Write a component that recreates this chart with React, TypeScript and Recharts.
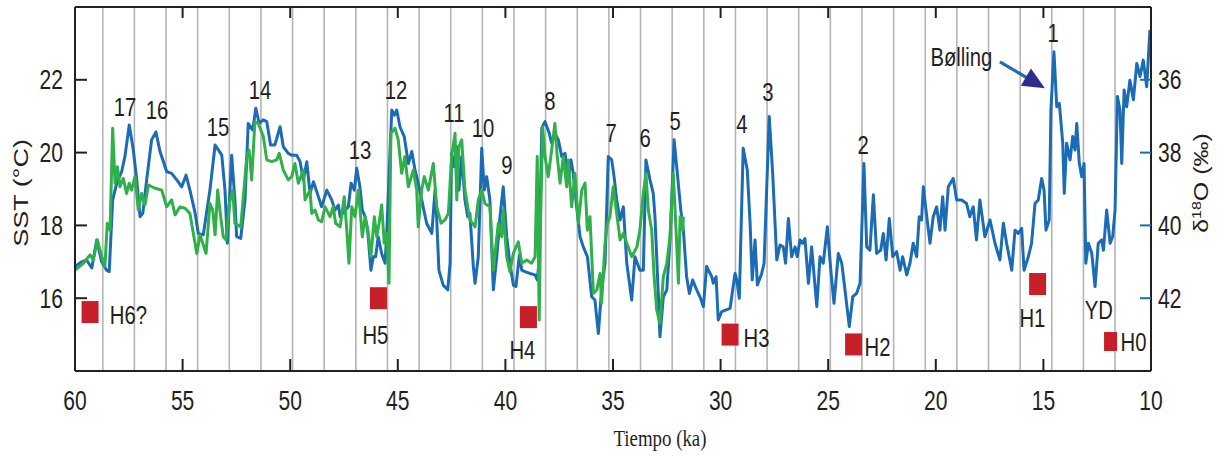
import React from 'react';
import { ComposedChart, Line, XAxis, YAxis, Scatter, ReferenceLine, CartesianGrid } from 'recharts';

// ---------- data ----------
const timeTicks = [60, 55, 50, 45, 40, 35, 30, 25, 20, 15, 10];
const sstTicks = [16, 18, 20, 22];
const d18oTicks = [36, 38, 40, 42];

// ~1470-yr spaced reference lines (ka)
const gridTimes = [58.71, 57.24, 55.77, 54.3, 52.83, 51.36, 49.89, 48.42, 46.95, 45.48, 44.01, 42.54, 41.07, 39.6, 38.13,
  36.66, 35.19, 33.72, 32.25, 30.78, 29.31, 27.84, 26.37, 24.9, 23.43, 21.96, 20.49, 19.02, 17.55, 16.08, 14.61, 13.14, 11.67];

// SST record [ka, °C]
const sstRecord: [number, number][] = [
  [60.0, 16.87], [59.69, 17.0], [59.46, 17.05], [59.22, 16.83], [58.99, 17.6], [58.76, 17.0], [58.53, 16.77], [58.41, 16.73],
  [58.25, 18.7], [58.06, 19.16], [57.83, 19.48], [57.68, 19.89], [57.48, 20.76], [57.29, 20.07], [57.13, 19.25], [56.98, 18.24],
  [56.85, 18.33], [56.67, 19.25], [56.44, 20.35], [56.24, 20.57], [56.05, 20.03], [55.74, 19.48], [55.51, 19.43], [55.27, 19.25],
  [55.04, 19.06], [54.84, 19.38], [54.66, 18.97], [54.42, 18.34], [54.27, 17.78], [54.04, 17.74], [53.73, 18.97], [53.49, 20.21],
  [53.18, 19.93], [53.03, 18.97], [52.92, 17.51], [52.72, 19.93], [52.57, 18.7], [52.49, 17.69], [52.3, 17.64], [52.1, 18.7],
  [51.95, 20.8], [51.74, 20.62], [51.6, 21.22], [51.44, 20.8], [51.25, 20.9], [51.09, 20.85], [50.91, 20.21], [50.71, 20.21],
  [50.47, 20.71], [50.32, 20.16], [50.09, 19.98], [49.93, 19.93], [49.7, 19.93], [49.54, 19.75], [49.39, 19.25], [49.23, 19.75],
  [49.08, 18.88], [48.92, 19.2], [48.69, 18.79], [48.54, 18.51], [48.3, 18.97], [48.07, 18.7], [47.92, 18.42], [47.76, 18.56],
  [47.68, 18.24], [47.45, 18.42], [47.3, 18.51], [47.17, 19.16], [47.02, 18.97], [46.91, 19.57], [46.76, 19.06], [46.65, 18.42],
  [46.52, 18.24], [46.4, 17.87], [46.25, 16.77], [46.14, 17.14], [46.03, 17.14], [45.91, 17.69], [45.75, 17.23], [45.59, 16.96],
  [45.52, 17.69], [45.28, 21.17], [45.16, 21.03], [45.05, 21.17], [44.9, 20.71], [44.7, 20.44], [44.51, 19.7], [44.35, 20.03],
  [44.2, 19.52], [44.05, 19.16], [43.89, 18.7], [43.66, 18.06], [43.42, 17.78], [43.27, 18.97], [43.19, 18.15], [43.09, 16.77],
  [42.89, 16.36], [42.68, 16.23], [42.57, 16.96], [42.5, 19.98], [42.37, 19.61], [42.26, 20.16], [42.16, 18.97], [42.03, 19.89],
  [41.88, 18.7], [41.75, 18.24], [41.65, 18.33], [41.49, 16.87], [41.41, 16.41], [41.26, 17.14], [41.1, 20.12], [40.98, 18.97],
  [40.87, 19.34], [40.72, 18.7], [40.56, 16.23], [40.4, 17.14], [40.25, 18.24], [40.1, 19.06], [39.94, 17.69], [39.79, 16.96],
  [39.63, 16.36], [39.51, 16.32], [39.35, 17.19], [39.24, 16.77], [39.09, 16.73], [38.86, 16.68], [38.62, 16.64], [38.52, 16.5],
  [38.43, 17.05], [38.31, 20.67], [38.16, 20.85], [37.96, 20.53], [37.85, 20.26], [37.7, 20.53], [37.54, 20.35], [37.38, 19.89],
  [37.23, 19.98], [37.08, 19.25], [36.95, 19.8], [36.85, 19.43], [36.69, 18.51], [36.53, 17.69], [36.38, 17.41], [36.19, 17.14],
  [35.99, 16.04], [35.84, 15.95], [35.68, 15.03], [35.53, 16.23], [35.37, 16.96], [35.22, 19.89], [35.06, 19.8], [34.95, 19.34],
  [34.83, 18.7], [34.67, 18.15], [34.52, 18.51], [34.36, 16.96], [34.13, 15.95], [33.98, 17.14], [33.75, 16.77], [33.59, 16.77],
  [33.47, 19.8], [33.28, 19.25], [33.13, 18.88], [33.05, 18.24], [32.89, 16.04], [32.82, 14.94], [32.66, 16.04], [32.5, 16.23],
  [32.35, 17.6], [32.16, 20.35], [32.01, 19.43], [31.85, 18.42], [31.73, 17.87], [31.58, 16.59], [31.45, 16.13], [31.3, 16.5],
  [31.11, 16.23], [30.96, 16.04], [30.8, 15.77], [30.65, 16.87], [30.41, 16.59], [30.34, 16.41], [30.21, 16.59], [30.11, 15.4],
  [29.95, 15.63], [29.56, 15.72], [29.33, 16.68], [29.25, 16.5], [29.13, 16.0], [28.95, 20.12], [28.76, 19.52], [28.63, 18.06],
  [28.53, 16.5], [28.4, 17.6], [28.29, 16.36], [28.09, 16.68], [27.98, 16.96], [27.86, 18.97], [27.74, 20.99], [27.58, 19.43],
  [27.39, 17.05], [27.24, 17.46], [27.09, 17.41], [26.98, 16.96], [26.85, 18.19], [26.7, 17.14], [26.54, 17.41], [26.44, 17.14],
  [26.31, 17.6], [26.19, 17.51], [26.08, 17.64], [25.92, 16.41], [25.77, 17.41], [25.53, 15.77], [25.38, 17.14], [25.23, 16.96],
  [25.04, 17.96], [24.88, 16.77], [24.73, 15.86], [24.53, 17.23], [24.37, 16.96], [24.22, 16.23], [24.02, 15.22], [23.86, 16.04],
  [23.68, 16.13], [23.52, 16.41], [23.34, 19.7], [23.21, 17.41], [23.06, 17.32], [22.9, 18.84], [22.75, 17.23], [22.56, 17.32],
  [22.44, 17.78], [22.31, 17.05], [22.16, 18.19], [22.0, 17.14], [21.82, 17.28], [21.66, 16.77], [21.54, 17.14], [21.35, 16.64],
  [21.2, 16.96], [21.05, 17.51], [20.89, 17.14], [20.77, 18.24], [20.66, 18.15], [20.58, 19.06], [20.42, 18.24], [20.27, 17.51],
  [20.12, 18.24], [19.96, 18.51], [19.81, 17.87], [19.68, 18.79], [19.57, 17.87], [19.42, 19.06], [19.19, 19.29], [19.03, 18.7],
  [18.8, 18.7], [18.57, 18.6], [18.42, 18.24], [18.26, 18.51], [18.11, 17.6], [17.95, 18.7], [17.72, 17.69], [17.48, 18.15],
  [17.25, 17.51], [17.02, 17.05], [16.86, 18.06], [16.71, 17.51], [16.47, 16.77], [16.32, 17.87], [16.17, 17.78], [16.01, 17.92],
  [15.9, 16.77], [15.7, 17.14], [15.55, 17.51], [15.39, 18.6], [15.24, 18.7], [15.08, 19.29], [14.97, 18.97], [14.88, 17.87],
  [14.73, 18.15], [14.65, 21.17], [14.51, 22.77], [14.38, 21.26], [14.26, 21.35], [14.1, 20.26], [14.03, 18.88], [13.92, 20.26],
  [13.76, 19.8], [13.64, 20.44], [13.53, 20.07], [13.45, 20.8], [13.33, 19.7], [13.22, 19.34], [13.11, 19.7], [13.03, 16.96],
  [12.91, 17.51], [12.75, 17.23], [12.6, 16.32], [12.45, 17.51], [12.29, 17.6], [12.21, 17.32], [12.06, 18.42], [11.9, 17.51],
  [11.78, 17.69], [11.67, 18.42], [11.56, 21.54], [11.44, 21.17], [11.36, 19.7], [11.25, 21.72], [11.13, 21.26], [10.98, 21.99],
  [10.82, 21.45], [10.66, 22.45], [10.51, 22.09], [10.36, 22.54], [10.2, 21.81], [10.05, 23.37],
];

// δ18O record [ka, ‰] (right axis, reversed)
const d18oRecord: [number, number][] = [
  [60.0, 41.23], [59.61, 41.04], [59.3, 40.81], [59.15, 40.95], [58.96, 40.4], [58.76, 40.86], [58.61, 41.13], [58.5, 39.94],
  [58.37, 40.13], [58.25, 37.33], [58.14, 38.84], [58.03, 38.39], [57.91, 38.94], [57.76, 38.71], [57.6, 39.12], [57.48, 38.84],
  [57.37, 39.03], [57.21, 38.66], [57.06, 39.58], [56.9, 39.12], [56.75, 39.44], [56.59, 38.89], [56.28, 38.98], [55.97, 39.03],
  [55.74, 39.49], [55.51, 39.3], [55.35, 39.71], [55.12, 39.49], [54.89, 39.53], [54.66, 39.67], [54.34, 40.77], [54.19, 40.26],
  [53.91, 40.77], [53.73, 39.4], [53.6, 39.58], [53.49, 40.26], [53.37, 39.03], [53.23, 39.76], [53.11, 40.31], [52.98, 40.4],
  [52.83, 39.4], [52.67, 39.03], [52.57, 39.94], [52.3, 40.04], [52.15, 39.03], [52.02, 38.11], [51.91, 37.93], [51.79, 38.75],
  [51.64, 37.15], [51.48, 37.2], [51.25, 37.56], [51.09, 38.2], [50.86, 38.25], [50.63, 38.2], [50.51, 38.02], [50.32, 38.48],
  [50.09, 38.75], [49.93, 38.66], [49.78, 38.3], [49.62, 38.84], [49.39, 38.48], [49.31, 39.3], [49.08, 39.03], [49.0, 39.67],
  [48.85, 39.58], [48.69, 39.85], [48.54, 39.9], [48.38, 39.49], [48.15, 39.76], [48.0, 39.49], [47.89, 39.94], [47.68, 40.04],
  [47.49, 39.21], [47.37, 40.13], [47.27, 41.04], [47.14, 39.49], [46.99, 39.76], [46.83, 39.03], [46.65, 40.31], [46.52, 39.76],
  [46.37, 40.22], [46.25, 40.86], [46.09, 39.76], [45.98, 40.31], [45.87, 39.94], [45.75, 39.44], [45.63, 40.49], [45.52, 40.22],
  [45.41, 41.59], [45.32, 37.47], [45.13, 37.33], [44.98, 37.65], [44.82, 38.57], [44.67, 38.11], [44.51, 38.94], [44.28, 38.48],
  [44.12, 39.03], [44.05, 40.04], [43.89, 39.03], [43.77, 38.66], [43.58, 39.03], [43.35, 38.3], [43.19, 39.49], [42.99, 39.94],
  [42.81, 39.85], [42.65, 39.67], [42.5, 38.11], [42.34, 37.47], [42.26, 39.3], [42.16, 37.84], [42.03, 37.65], [41.88, 39.03],
  [41.65, 39.85], [41.41, 40.04], [41.26, 39.3], [41.1, 39.03], [40.95, 39.4], [40.72, 39.49], [40.56, 41.23], [40.33, 39.94],
  [40.17, 40.31], [40.1, 39.58], [39.94, 40.86], [39.79, 41.27], [39.63, 40.77], [39.4, 40.45], [39.24, 41.04], [39.01, 40.95],
  [38.78, 41.04], [38.62, 40.86], [38.52, 38.11], [38.43, 42.6], [38.36, 39.76], [38.27, 37.29], [38.16, 38.11], [38.01, 38.66],
  [37.85, 37.93], [37.7, 37.2], [37.59, 38.11], [37.46, 38.84], [37.31, 38.11], [37.15, 38.94], [37.08, 38.2], [36.92, 39.49],
  [36.77, 38.57], [36.61, 39.94], [36.45, 39.03], [36.3, 38.84], [36.19, 40.13], [36.07, 39.76], [35.91, 41.87], [35.75, 41.77],
  [35.6, 41.32], [35.53, 42.14], [35.37, 40.49], [35.26, 39.94], [35.14, 39.76], [34.99, 38.94], [34.83, 39.67], [34.67, 40.4],
  [34.52, 40.22], [34.36, 40.49], [34.13, 40.86], [33.89, 40.59], [33.75, 40.13], [33.59, 39.12], [33.47, 38.57], [33.36, 39.58],
  [33.2, 40.13], [33.09, 41.41], [32.97, 42.32], [32.82, 42.69], [32.66, 41.41], [32.5, 41.04], [32.35, 40.31], [32.2, 38.57],
  [32.07, 40.13], [31.96, 41.59], [31.88, 39.76], [31.76, 40.13], [31.73, 39.76],
];

// interstadial numbers [ka, SST-axis position, text]
const peakLabels: [number, number, string][] = [
  [57.68, 21.25, '17'], [56.19, 21.17, '16'], [53.36, 20.7, '15'], [51.4, 21.72, '14'], [46.76, 20.07, '13'],
  [45.08, 21.72, '12'], [42.39, 21.09, '11'], [41.04, 20.68, '10'], [39.93, 19.66, '9'], [37.93, 21.42, '8'],
  [35.09, 20.54, '7'], [33.51, 20.4, '6'], [32.11, 20.87, '5'], [29.01, 20.79, '4'], [27.8, 21.66, '3'],
  [23.38, 20.21, '2'], [14.55, 23.29, '1'],
];

// Heinrich events (marker centres) [ka, SST-axis position, name]
const heinrichEvents: [number, number, string][] = [
  [59.3, 15.62, 'H6?'], [45.9, 16.0, 'H5'], [38.93, 15.48, 'H4'], [29.56, 15.0, 'H3'],
  [23.82, 14.73, 'H2'], [15.27, 16.39, 'H1'], [11.88, 14.81, 'H0'],
];

// event label text centres [ka, SST-axis position, text]
const eventLabels: [number, number, string][] = [
  [57.52, 15.54, 'H6?'], [46.04, 14.99, 'H5'], [39.21, 14.58, 'H4'], [28.33, 14.91, 'H3'], [22.71, 14.66, 'H2'],
  [15.51, 15.46, 'H1'], [12.42, 15.68, 'YD'], [10.81, 14.8, 'H0'], [18.81, 22.63, 'Bølling'],
];

// Bølling arrow [start, tip] in [ka, SST]
const bollingArrow: [number, number][] = [[17.02, 22.49], [14.93, 21.77]];

// ---------- styling ----------
const W = 1222;
const H = 456;
const PLOT_TOP = 7;
const INK = '#231f20';
const BLUE = '#1b6cb4';
const GREEN = '#2fb04a';
const GRID = '#b4b4b6';
const RED = '#c8202b';
const NAVY = '#2e2c8c';
const SANS = "'Liberation Sans', Arial, sans-serif";
const SERIF = "'Liberation Serif', 'Times New Roman', serif";
const SX = 0.78;
const FS = 26;

const sstData = sstRecord.map(([t, v]) => ({ t, v }));
const d18oData = d18oRecord.map(([t, v]) => ({ t, v }));
const peakData = peakLabels.map(([t, v, text]) => ({ t, v, text }));
const hData = heinrichEvents.map(([t, v, name]) => ({ t, v, name }));
const evData = eventLabels.map(([t, v, text]) => ({ t, v, text }));

const CText = ({ x, y, children, size = FS, anchor = 'middle', fill = INK, family = SANS }: any) => (
  <text transform={`translate(${x},${y}) scale(${SX},1)`} textAnchor={anchor} fontSize={size} fontFamily={family} fill={fill}>
    {children}
  </text>
);

const TimeTick = (p: any) => {
  const { x, y, payload } = p;
  return (
    <g>
      <line x1={x} x2={x} y1={y} y2={y - 12} stroke={INK} strokeWidth={2} />
      <line x1={x} x2={x} y1={PLOT_TOP} y2={PLOT_TOP + 11} stroke={INK} strokeWidth={2} />
      <CText x={x} y={y + 39} size={27}>{payload.value}</CText>
    </g>
  );
};

const SstTick = (p: any) => {
  const { x, y, payload } = p;
  return (
    <g>
      <line x1={x} x2={x + 12} y1={y} y2={y} stroke={INK} strokeWidth={2} />
      <CText x={x - 12} y={y + 9.5} anchor="end" size={27}>{payload.value}</CText>
    </g>
  );
};

const D18oTick = (p: any) => {
  const { x, y, payload } = p;
  return (
    <g>
      <line x1={x} x2={x - 11} y1={y} y2={y} stroke={BLUE} strokeWidth={2} />
      <CText x={x + 7} y={y + 9.5} anchor="start" size={27}>{payload.value}</CText>
    </g>
  );
};

const PeakLabel = (p: any) => <CText x={p.cx} y={p.cy + 9.3}>{p.payload.text}</CText>;

const HMarker = (p: any) => {
  const small = p.payload.name === 'H0';
  const w = small ? 13 : 17;
  const h = small ? 19 : 22;
  return <rect x={p.cx - w / 2} y={p.cy - h / 2} width={w} height={h} fill={RED} />;
};

const ArrowShape = (p: any) => {
  const { x1, y1, x2, y2 } = p;
  const dx = x2 - x1;
  const dy = y2 - y1;
  const len = Math.hypot(dx, dy) || 1;
  const ux = dx / len;
  const uy = dy / len;
  const hl = 22;
  const hw = 10;
  const bx = x2 - ux * hl;
  const by = y2 - uy * hl;
  return (
    <g>
      <line x1={x1} y1={y1} x2={bx + ux * 2} y2={by + uy * 2} stroke={BLUE} strokeWidth={3.2} />
      <polygon points={`${x2},${y2} ${bx - uy * hw},${by + ux * hw} ${bx + uy * hw},${by - ux * hw}`} fill={NAVY} />
    </g>
  );
};

const gridGen = (props: any) => {
  const xa = props?.xAxis;
  if (xa && typeof xa.scale === 'function') {
    return gridTimes.map((t) => xa.scale(t));
  }
  const off = props?.offset ?? { left: 75, width: 1076 };
  return gridTimes.map((t) => off.left + ((60 - t) / 50) * off.width);
};

export default function App() {
  return (
    <div style={{ position: 'absolute', left: 0, top: 0, width: W, height: H, background: '#fff' }}>
      <ComposedChart width={W} height={H} margin={{ top: PLOT_TOP, right: 0, bottom: 0, left: 0 }}>
        <CartesianGrid horizontal={false} stroke={GRID} strokeWidth={1.6} verticalCoordinatesGenerator={gridGen} />
        <XAxis
          xAxisId={0}
          type="number"
          dataKey="t"
          domain={[10, 60]}
          reversed
          allowDataOverflow
          ticks={timeTicks}
          interval={0}
          height={85}
          tickSize={0}
          tickMargin={0}
          tickLine={false}
          axisLine={{ stroke: INK, strokeWidth: 2 }}
          tick={<TimeTick />}
        />
        <YAxis
          yAxisId="sst"
          orientation="left"
          dataKey="v"
          type="number"
          domain={[14, 24]}
          allowDataOverflow
          ticks={sstTicks}
          width={75}
          tickSize={0}
          tickMargin={0}
          tickLine={false}
          axisLine={{ stroke: INK, strokeWidth: 2 }}
          tick={<SstTick />}
        />
        <YAxis
          yAxisId="d18o"
          orientation="right"
          dataKey="v"
          type="number"
          domain={[34, 44]}
          reversed
          allowDataOverflow
          ticks={d18oTicks}
          width={71}
          tickSize={0}
          tickMargin={0}
          tickLine={false}
          axisLine={{ stroke: INK, strokeWidth: 2 }}
          tick={<D18oTick />}
        />
        <ReferenceLine yAxisId="sst" y={24} stroke={INK} strokeWidth={2} />
        <Line
          yAxisId="sst"
          data={sstData}
          dataKey="v"
          type="linear"
          stroke={BLUE}
          strokeWidth={3}
          dot={false}
          strokeLinejoin="round"
          isAnimationActive={false}
        />
        <Line
          yAxisId="d18o"
          data={d18oData}
          dataKey="v"
          type="linear"
          stroke={GREEN}
          strokeWidth={3}
          dot={false}
          strokeLinejoin="round"
          isAnimationActive={false}
        />
        <Scatter yAxisId="sst" data={hData} dataKey="v" shape={<HMarker />} isAnimationActive={false} />
        <Scatter yAxisId="sst" data={peakData} dataKey="v" shape={<PeakLabel />} isAnimationActive={false} />
        <Scatter yAxisId="sst" data={evData} dataKey="v" shape={<PeakLabel />} isAnimationActive={false} />
        <ReferenceLine
          yAxisId="sst"
          segment={bollingArrow.map(([x, y]) => ({ x, y }))}
          shape={<ArrowShape />}
          ifOverflow="visible"
        />
      </ComposedChart>
      <svg width={W} height={H} style={{ position: 'absolute', left: 0, top: 0, pointerEvents: 'none' }}>
        <text transform="translate(28,193) scale(0.78,1) rotate(-90)" textAnchor="middle" fontSize={27} fontFamily={SANS} fill={INK}>
          SST (°C)
        </text>
        <text transform="translate(1208,183) scale(0.78,1) rotate(-90)" textAnchor="middle" fontSize={25} fontFamily={SANS} fill={INK}>
          <tspan>δ</tspan>
          <tspan dy={-9} fontSize={16}>18</tspan>
          <tspan dy={9}>O (‰)</tspan>
        </text>
        <text transform="translate(660,446) scale(0.82,1)" textAnchor="middle" fontSize={23} fontFamily={SERIF} fill={INK}>
          Tiempo (ka)
        </text>
      </svg>
    </div>
  );
}
